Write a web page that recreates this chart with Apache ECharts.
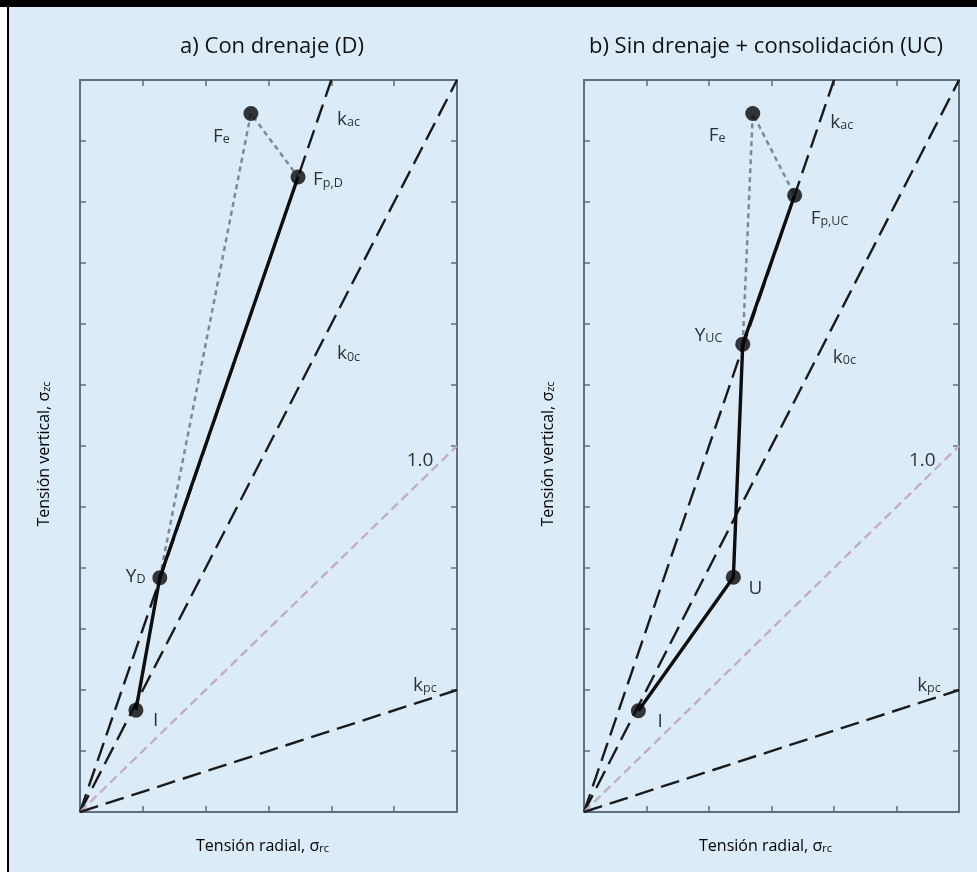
<!DOCTYPE html>
<html>
<head>
<meta charset="utf-8">
<script src="https://cdn.jsdelivr.net/npm/echarts@6/dist/echarts.min.js"></script>
<style>
html,body{margin:0;padding:0;width:977px;height:872px;background:#fff;overflow:hidden;}
#topbar{position:absolute;left:0;top:0;width:977px;height:7px;background:#000;}
#bg{position:absolute;left:7px;top:7px;width:970px;height:865px;background:#dcebf8;border-left:2px solid #000;box-sizing:border-box;}
#chart{position:absolute;left:0;top:0;width:977px;height:872px;}
</style>
</head>
<body>
<div id="topbar"></div>
<div id="bg"></div>
<div id="chart"></div>
<script>
// ---------- data ----------
const xMax = 6, yMax = 12;
const titles = ['a) Con drenaje (D)', 'b) Sin drenaje + consolidación (UC)'];
const xAxisName = ['Tensión radial, σ', 'rc'];
const yAxisName = ['Tensión vertical, σ', 'zc'];

// reference lines from origin (end points)
const refLineMain = ['k', 'k', '1.0', 'k'];
const refLineSub = ['ac', '0c', '', 'pc'];
const refLineEndX = [4, 6, 6, 6];
const refLineEndY = [12, 12, 6, 2];

// panel a points
const aMain = ['F', 'F', 'Y', 'I'];
const aSub = ['e', 'p,D', 'D', ''];
const aX = [2.72, 3.47, 1.27, 0.89];
const aY = [11.45, 10.41, 3.84, 1.67];
const aPath = [3, 2, 1];      // I -> Y_D -> F_p,D
const aDotted = [2, 0, 1];    // Y_D -> F_e -> F_p,D

// panel b points
const bMain = ['F', 'F', 'Y', 'U', 'I'];
const bSub = ['e', 'p,UC', 'UC', '', ''];
const bX = [2.70, 3.37, 2.54, 2.39, 0.87];
const bY = [11.45, 10.11, 7.67, 3.85, 1.66];
const bPath = [4, 3, 2, 1];   // I -> U -> Y_UC -> F_p,UC
const bDotted = [2, 0, 1];    // Y_UC -> F_e -> F_p,UC

// label anchor positions for the reference lines (data coords, left/middle)
const aRefLabelX = [4.09, 4.09, 5.20, 5.30];
const aRefLabelY = [11.39, 7.54, 5.79, 2.11];
const bRefLabelX = [3.94, 3.98, 5.20, 5.33];
const bRefLabelY = [11.33, 7.49, 5.79, 2.11];

// ---------- styling ----------
const FONT = '"Open Sans", sans-serif';
const axisCol = '#5f7083';
const rich = {
  m: {fontFamily: FONT, fontSize: 19, color: '#000', lineHeight: 23, verticalAlign: 'bottom'},
  s: {fontFamily: FONT, fontSize: 12.5, color: '#000', lineHeight: 9, verticalAlign: 'bottom'}
};
const richAx = {
  m: {fontFamily: FONT, fontSize: 16, color: '#000', lineHeight: 19, verticalAlign: 'bottom'},
  s: {fontFamily: FONT, fontSize: 11, color: '#000', lineHeight: 7, verticalAlign: 'bottom'}
};
function lbl(m, s) { return '{m|' + m + '}' + (s ? '{s|' + s + '}' : ''); }

// point label offsets (pixels, left edge / vertical center relative to point)
const aLabelOff = [[-38, 21], [15, 1], [-34, -3], [17, 8]];
const bLabelOff = [[-44, 20], [16, 21], [-48, -11], [15, 9], [19, 9]];

const grids = [
  {left: 80, top: 80, width: 377, height: 732},
  {left: 584, top: 80, width: 375, height: 732}
];

const xAxes = [], yAxes = [];
for (let g = 0; g < 2; g++) {
  const common = {
    type: 'value', gridIndex: g, interval: 1,
    axisLine: {show: true, onZero: false, lineStyle: {color: axisCol, width: 2}},
    axisTick: {show: true, inside: true, length: 6, lineStyle: {color: axisCol, width: 1.5}},
    axisLabel: {show: false}, splitLine: {show: false}
  };
  xAxes.push(Object.assign({}, common, {min: 0, max: xMax, position: 'bottom',
    name: lbl(xAxisName[0], xAxisName[1]), nameLocation: 'middle', nameGap: 23,
    nameTextStyle: {rich: richAx, padding: [0, 12, 0, 0]}}));
  xAxes.push(Object.assign({}, common, {min: 0, max: xMax, position: 'top'}));
  yAxes.push(Object.assign({}, common, {min: 0, max: yMax, position: 'left',
    name: lbl(yAxisName[0], yAxisName[1]), nameLocation: 'middle', nameGap: 28, nameRotate: 90,
    nameTextStyle: {rich: richAx, padding: [0, 16, 0, 0]}}));
  yAxes.push(Object.assign({}, common, {min: 0, max: yMax, position: 'right'}));
}

const series = [];
function addPanel(g, main, sub, X, Y, path, dotted, labelOff, refLX, refLY) {
  const xi = g * 2, yi = g * 2;
  for (let i = 0; i < refLineEndX.length; i++) {
    const isOne = refLineMain[i] === '1.0';
    series.push({
      type: 'line', xAxisIndex: xi, yAxisIndex: yi, showSymbol: false, silent: true,
      data: [[0, 0], [refLineEndX[i], refLineEndY[i]]],
      lineStyle: isOne ? {color: '#c4aebe', width: 2.4, type: [9, 5]}
                       : {color: '#1a1a1a', width: 2.4, type: [19, 8]},
      z: 2
    });
  }
  series.push({
    type: 'line', xAxisIndex: xi, yAxisIndex: yi, showSymbol: false, silent: true,
    data: dotted.map(k => [X[k], Y[k]]),
    lineStyle: {color: '#7f8995', width: 2.5, type: [5, 4]}, z: 3
  });
  series.push({
    type: 'line', xAxisIndex: xi, yAxisIndex: yi, showSymbol: false, silent: true,
    data: path.map(k => [X[k], Y[k]]),
    lineStyle: {color: '#0e0e0e', width: 3.4}, z: 4
  });
  series.push({
    type: 'scatter', xAxisIndex: xi, yAxisIndex: yi, symbolSize: 15, silent: true,
    itemStyle: {color: '#080808'}, z: 5,
    data: X.map((x, k) => ({
      value: [x, Y[k]],
      label: {show: true, position: 'inside', align: 'left', verticalAlign: 'middle',
        offset: labelOff[k], formatter: lbl(main[k], sub[k]), rich: rich}
    }))
  });
  series.push({
    type: 'scatter', xAxisIndex: xi, yAxisIndex: yi, symbolSize: 1, silent: true,
    itemStyle: {color: 'rgba(0,0,0,0)'}, z: 6,
    data: refLX.map((x, k) => ({
      value: [x, refLY[k]],
      label: {show: true, position: 'inside', align: 'left', verticalAlign: 'middle',
        formatter: lbl(refLineMain[k], refLineSub[k]), rich: rich}
    }))
  });
}
addPanel(0, aMain, aSub, aX, aY, aPath, aDotted, aLabelOff, aRefLabelX, aRefLabelY);
addPanel(1, bMain, bSub, bX, bY, bPath, bDotted, bLabelOff, bRefLabelX, bRefLabelY);

const option = {
  animation: false,
  backgroundColor: 'transparent',
  grid: grids,
  xAxis: xAxes,
  yAxis: yAxes,
  series: series,
  graphic: [
    {type: 'text', x: 272, y: 47, style: {text: titles[0], font: '22px ' + FONT, fill: '#111', textAlign: 'center', textVerticalAlign: 'middle'}},
    {type: 'text', x: 766, y: 47, style: {text: titles[1], font: '22px ' + FONT, fill: '#111', textAlign: 'center', textVerticalAlign: 'middle'}}
  ]
};
const chart = echarts.init(document.getElementById('chart'), null, {renderer: 'canvas'});
chart.setOption(option);
</script>
</body>
</html>
